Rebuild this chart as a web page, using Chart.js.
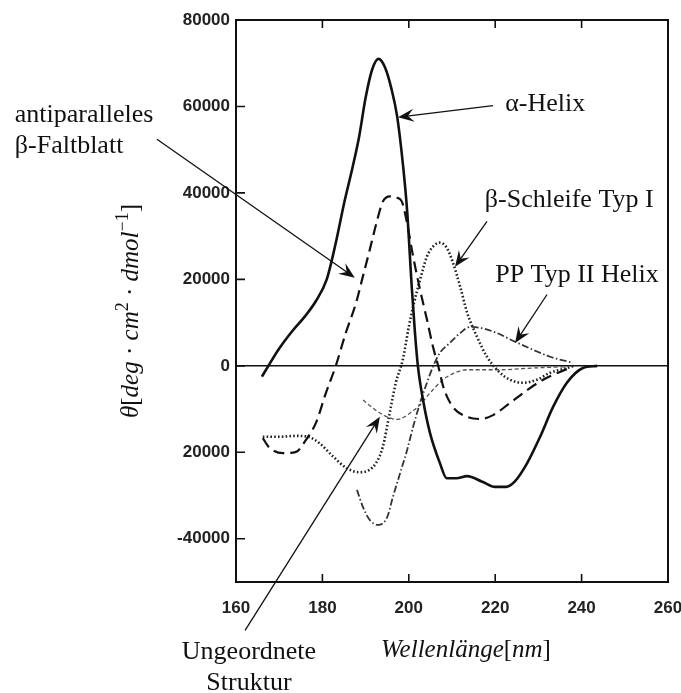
<!DOCTYPE html>
<html>
<head>
<meta charset="utf-8">
<script src="https://cdn.jsdelivr.net/npm/chart.js@4.4.1/dist/chart.umd.min.js"></script>
<style>
  html, body { margin: 0; background: #fff; }
</style>
</head>
<body>
<canvas id="cdChart" width="681" height="693"></canvas>
<script>
// CD spectra of secondary structures: wavelength (nm) vs. molar ellipticity
const alphaNm    = [166, 167.5, 170, 173, 176, 178.5, 181, 183, 185, 187, 188.5, 190, 191.5, 193, 194.5, 196, 197.3, 198.7, 199.6, 200.7, 201.4, 202.1, 203.3, 204.9, 207.2, 208.8, 211, 213.5, 217, 220, 222.5, 224.5, 227.4, 230.4, 233.4, 236.6, 240.3, 243.6];
const alphaTheta = [-2500, 0, 4000, 8000, 11500, 15000, 20000, 28000, 37500, 46000, 53000, 62000, 68500, 71000, 69000, 64000, 57700, 46000, 36000, 18000, 8000, 0, -7900, -15500, -22500, -26000, -26000, -25500, -26800, -28000, -28000, -26800, -22500, -16400, -9500, -3900, -500, 0];

const sheetNm    = [166.2, 167.6, 170.9, 173.9, 176.2, 178.5, 180.8, 183.1, 185.4, 187.8, 189.2, 191, 192.5, 194, 195.6, 197.3, 198.4, 199.6, 201, 202.6, 204.2, 205.6, 206.8, 208, 210.2, 213.5, 216.5, 219.5, 223.4, 227.4, 231.1, 235, 238];
const sheetTheta = [-16700, -18800, -20200, -19900, -17100, -13200, -6300, 0, 7600, 14600, 20000, 27000, 33000, 38000, 39200, 38900, 38000, 33000, 25300, 17600, 10700, 4400, 0, -4900, -9500, -11800, -12300, -11400, -8600, -5600, -3200, -1400, -200];

const turnNm     = [166.2, 170, 173.9, 176.7, 179.2, 182.5, 185.5, 188.5, 190.8, 192.4, 194, 195.4, 197, 198.6, 200, 201, 202.6, 204.2, 205.6, 207.2, 208.8, 210.2, 211.9, 213.5, 215.8, 218.1, 220.7, 223.4, 226.4, 229.7, 232.7, 236.6, 238];
const turnTheta  = [-16400, -16400, -16200, -16400, -17800, -21000, -23600, -24600, -24100, -22500, -18700, -11800, -3900, 1400, 9000, 13700, 19900, 25300, 27600, 28500, 27300, 23900, 18300, 12300, 6700, 2100, -1200, -3200, -3900, -3200, -1600, -500, 0];

const ppNm       = [188, 189.4, 191, 192.9, 195, 196.3, 198, 199.6, 201, 202.6, 204.2, 205.6, 207.2, 209.5, 211.9, 214.2, 216.5, 220.4, 224.1, 228.8, 232.7, 238];
const ppTheta    = [-28700, -32700, -35700, -36800, -35000, -30400, -24800, -19500, -14100, -8600, -3900, -200, 3000, 5300, 7600, 9000, 8800, 7600, 5800, 3700, 2100, 700];

const coilNm     = [189.4, 191.5, 193.3, 195.5, 197.3, 199, 200.3, 202.6, 204.9, 207.9, 211.2, 213.5, 221.1, 228.8, 236.6];
const coilTheta  = [-7900, -9600, -10900, -12000, -12400, -11800, -10900, -9000, -6300, -3200, -1400, -900, -900, -500, -200];

const xTicks = [160, 180, 200, 220, 240, 260];
const yTicks = [-40000, -20000, 0, 20000, 40000, 60000, 80000];
const yTickLabels = ['-40000', '20000', '0', '20000', '40000', '60000', '80000'];

const toPoints = (xs, ys) => xs.map((x, i) => ({ x: x, y: ys[i] }));

const serif = '"Liberation Serif", "Times New Roman", serif';
const tickFont = { family: '"Liberation Sans", Arial, sans-serif', size: 17, weight: 'bold' };

// callouts: text anchor and arrow, both in data units (nm, theta)
const notes = [
    { lines: ['α-Helix'], at: [222.3, 58900], from: [219.5, 60200], to: [197.5, 57500] },
    { lines: ['antiparalleles', 'β-Faltblatt'], at: [108.8, 56500], from: [141.7, 52400], to: [187.5, 20400] },
    { lines: ['β-Schleife Typ I'], at: [217.6, 36800], from: [218.1, 33400], to: [210.7, 22900] },
    { lines: ['PP Typ II Helix'], at: [220, 19500], from: [232, 16500], to: [224.6, 5300] },
    { lines: ['Ungeordnete', 'Struktur'], at: [163, -67700], center: true, from: [162.1, -61200], to: [193.3, -11800] }
];

function drawRich(ctx, parts, x, y, size) {
    const fontOf = p => p[1] === 's' ? (size * 0.72) + 'px ' + serif
        : (p[1] === 'i' ? 'italic ' : '') + size + 'px ' + serif;
    let w = 0;
    parts.forEach(p => { ctx.font = fontOf(p); w += ctx.measureText(p[0]).width; });
    let cx = x - w / 2;
    parts.forEach(p => {
        ctx.font = fontOf(p);
        ctx.fillText(p[0], cx, p[1] === 's' ? y - size * 0.42 : y);
        cx += ctx.measureText(p[0]).width;
    });
}

function drawArrow(ctx, x0, y0, x1, y1) {
    const a = Math.atan2(y1 - y0, x1 - x0);
    ctx.beginPath();
    ctx.moveTo(x0, y0);
    ctx.lineTo(x1 - 9 * Math.cos(a), y1 - 9 * Math.sin(a));
    ctx.stroke();
    ctx.save();
    ctx.translate(x1, y1);
    ctx.rotate(a);
    ctx.beginPath();
    ctx.moveTo(0, 0);
    ctx.lineTo(-16, -6.5);
    ctx.lineTo(-10, 0);
    ctx.lineTo(-16, 6.5);
    ctx.closePath();
    ctx.fill();
    ctx.restore();
}

const framePlugin = {
    id: 'frameAndNotes',
    afterDraw(chart) {
        const { ctx, chartArea: area, scales: { x, y } } = chart;
        ctx.save();
        ctx.strokeStyle = '#111';
        ctx.fillStyle = '#111';

        // inward ticks
        ctx.lineWidth = 1.6;
        ctx.beginPath();
        xTicks.slice(1, -1).forEach(v => {
            const px = x.getPixelForValue(v);
            ctx.moveTo(px, area.bottom); ctx.lineTo(px, area.bottom - 8);
            ctx.moveTo(px, area.top); ctx.lineTo(px, area.top + 8);
        });
        yTicks.slice(0, -1).forEach(v => {
            const py = y.getPixelForValue(v);
            ctx.moveTo(area.left, py); ctx.lineTo(area.left + 9, py);
        });
        ctx.stroke();

        // frame
        ctx.lineWidth = 2;
        ctx.strokeRect(area.left, area.top, area.right - area.left, area.bottom - area.top);

        // axis titles
        ctx.textBaseline = 'alphabetic';
        drawRich(ctx, [['Wellenlänge', 'i'], ['[', 'r'], ['nm', 'i'], [']', 'r']],
            area.left + 230, 657, 25);
        ctx.save();
        ctx.translate(138, 311);
        ctx.rotate(-Math.PI / 2);
        drawRich(ctx, [['θ', 'i'], ['[', 'r'], ['deg', 'i'], [' · ', 'r'], ['cm', 'i'], ['2', 's'],
            [' · ', 'r'], ['dmol', 'i'], ['−1', 's'], [']', 'r']], 0, 0, 25);
        ctx.restore();

        // callouts
        ctx.font = '26px ' + serif;
        ctx.lineWidth = 1.3;
        notes.forEach(n => {
            const tx = x.getPixelForValue(n.at[0]);
            const ty = y.getPixelForValue(n.at[1]);
            ctx.textAlign = n.center ? 'center' : 'left';
            n.lines.forEach((line, i) => ctx.fillText(line, tx, ty + i * 31));
            drawArrow(ctx, x.getPixelForValue(n.from[0]), y.getPixelForValue(n.from[1]),
                x.getPixelForValue(n.to[0]), y.getPixelForValue(n.to[1]));
        });
        ctx.restore();
    }
};

const line = (label, xs, ys, color, width, dash) => ({
    label: label,
    data: toPoints(xs, ys),
    borderColor: color,
    borderWidth: width,
    borderDash: dash,
    pointRadius: 0,
    cubicInterpolationMode: 'monotone',
    fill: false
});

new Chart(document.getElementById('cdChart'), {
    type: 'line',
    data: {
        datasets: [
            line('α-Helix', alphaNm, alphaTheta, '#111', 2.6, []),
            line('antiparalleles β-Faltblatt', sheetNm, sheetTheta, '#111', 2.2, [11, 6]),
            line('β-Schleife Typ I', turnNm, turnTheta, '#222', 2.6, [1.6, 2.2]),
            line('PP Typ II Helix', ppNm, ppTheta, '#333', 1.8, [7, 2.5, 1.5, 2.5]),
            line('Ungeordnete Struktur', coilNm, coilTheta, '#555', 1.3, [4, 2.5])
        ]
    },
    options: {
        responsive: false,
        animation: false,
        layout: { padding: { top: 20, right: 13, left: 0, bottom: 0 } },
        plugins: { legend: { display: false }, tooltip: { enabled: false } },
        scales: {
            x: {
                type: 'linear',
                min: 160,
                max: 260,
                afterBuildTicks: s => { s.ticks = xTicks.map(v => ({ value: v })); },
                afterFit: s => { s.height = 111; s.paddingLeft = 0; s.paddingRight = 0; },
                grid: { display: false },
                border: { display: false },
                ticks: { padding: 8, color: '#222', font: tickFont }
            },
            y: {
                min: -50000,
                max: 80000,
                afterBuildTicks: s => { s.ticks = yTicks.map(v => ({ value: v })); },
                afterFit: s => { s.width = 236; s.paddingTop = 0; s.paddingBottom = 0; },
                grid: {
                    drawTicks: false,
                    lineWidth: 1.5,
                    color: c => (c.tick && c.tick.value === 0) ? '#111' : 'rgba(0,0,0,0)'
                },
                border: { display: false },
                ticks: {
                    padding: 6,
                    color: '#222',
                    font: tickFont,
                    callback: (v, i) => yTickLabels[i]
                }
            }
        }
    },
    plugins: [framePlugin]
});
</script>
</body>
</html>
